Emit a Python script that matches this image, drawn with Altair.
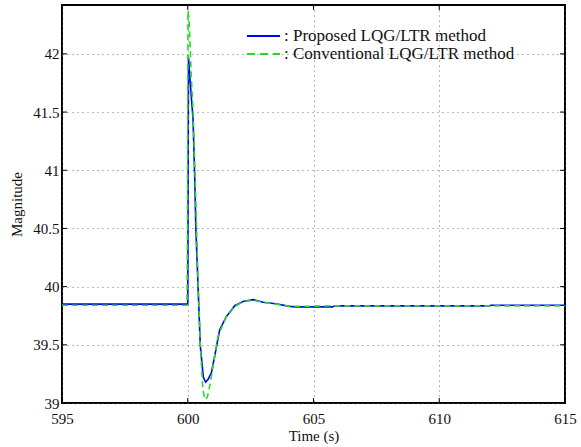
import altair as alt
import pandas as pd

# Proposed LQG/LTR method (blue, solid)
t_prop = [595, 599.99, 600.0, 600.03, 600.08, 600.15, 600.21, 600.28, 600.32, 600.41,
          600.5, 600.62, 600.71, 600.8, 600.94, 601.07, 601.27, 601.53, 601.87, 602.2,
          602.6, 603.0, 603.5, 604.05, 604.3, 605.75, 605.85, 612.0, 612.05, 615]
v_prop = [39.85, 39.85, 39.85, 41.97, 41.81, 41.61, 41.44, 40.92, 40.52, 40.0,
          39.49, 39.22, 39.18, 39.2, 39.26, 39.40, 39.63, 39.74, 39.836, 39.873,
          39.888, 39.865, 39.853, 39.83, 39.826, 39.826, 39.835, 39.835, 39.84, 39.84]

# Conventional LQG/LTR method (green, dashed)
t_conv = [595, 599.97, 599.99, 600.01, 600.05, 600.1, 600.15, 600.21, 600.3, 600.4,
          600.5, 600.6, 600.68, 600.78, 600.87, 601.0, 601.2, 601.5, 601.87, 602.2,
          602.6, 603.0, 603.5, 604.05, 604.3, 605.75, 605.85, 615]
v_conv = [39.84, 39.84, 40.5, 42.37, 42.30, 42.04, 41.76, 41.53, 40.9, 40.1,
          39.5, 39.12, 39.03, 39.05, 39.14, 39.31, 39.57, 39.73, 39.83, 39.87,
          39.885, 39.865, 39.85, 39.83, 39.83, 39.835, 39.835, 39.835]

legend_labels = [": Proposed LQG/LTR method", ": Conventional LQG/LTR method"]
x_ticks = [595, 600, 605, 610, 615]
y_ticks = [39, 39.5, 40, 40.5, 41, 41.5, 42]

df_p = pd.DataFrame({"t": t_prop, "v": v_prop})
df_c = pd.DataFrame({"t": t_conv, "v": v_conv})
df_xt = pd.DataFrame({"t": x_ticks})
df_yt = pd.DataFrame({"v": y_ticks})

FONT = "Liberation Serif"
W, H = 503, 398
TL = 5

xs = alt.Scale(domain=[595, 615], nice=False, zero=False)
ys = alt.Scale(domain=[39, 42.42], nice=False, zero=False)

xax = alt.Axis(values=x_ticks, title="Time (s)", grid=True, gridDash=[1, 4], gridColor="#666666",
               gridOpacity=0.9, labelFont=FONT, labelFontSize=15, titleFont=FONT, titleFontSize=15,
               titleFontWeight="normal", labelColor="#111111", titleColor="#111111",
               domain=False, ticks=False, labelPadding=8, titlePadding=2, labelFlush=False,
               format="~g")
yax = alt.Axis(values=y_ticks, title="Magnitude", grid=True, gridDash=[1, 4], gridColor="#666666",
               gridOpacity=0.9, labelFont=FONT, labelFontSize=15, titleFont=FONT, titleFontSize=15,
               titleFontWeight="normal", labelColor="#111111", titleColor="#111111",
               domain=False, ticks=False, labelPadding=3, titlePadding=8, labelFlush=False,
               format="~g")

blue = alt.Chart(df_p).mark_line(color="#0000ff", strokeWidth=1.6, clip=True).encode(
    x=alt.X("t:Q", scale=xs, axis=xax),
    y=alt.Y("v:Q", scale=ys, axis=yax),
)
green = alt.Chart(df_c).mark_line(color="#22dd22", strokeWidth=1.6, strokeDash=[6, 4], clip=True).encode(
    x=alt.X("t:Q", scale=xs),
    y=alt.Y("v:Q", scale=ys),
)

# inside tick marks on all four sides
xt_bot = alt.Chart(df_xt).mark_rule(color="black", strokeWidth=1).encode(
    x=alt.X("t:Q", scale=xs), y=alt.value(H), y2=alt.value(H - TL))
xt_top = alt.Chart(df_xt).mark_rule(color="black", strokeWidth=1).encode(
    x=alt.X("t:Q", scale=xs), y=alt.value(0), y2=alt.value(TL))
yt_left = alt.Chart(df_yt).mark_rule(color="black", strokeWidth=1).encode(
    y=alt.Y("v:Q", scale=ys), x=alt.value(0), x2=alt.value(TL))
yt_right = alt.Chart(df_yt).mark_rule(color="black", strokeWidth=1).encode(
    y=alt.Y("v:Q", scale=ys), x=alt.value(W), x2=alt.value(W - TL))

leg_x0, leg_x1, leg_tx = 185, 218, 222
leg1 = alt.Chart(pd.DataFrame({"l": [legend_labels[0]]})).mark_rule(color="#0000ff", strokeWidth=2).encode(
    x=alt.value(leg_x0), x2=alt.value(leg_x1), y=alt.value(31))
leg2 = alt.Chart(pd.DataFrame({"l": [legend_labels[1]]})).mark_rule(color="#22dd22", strokeWidth=2, strokeDash=[8, 5]).encode(
    x=alt.value(leg_x0), x2=alt.value(leg_x1), y=alt.value(49))
txt1 = alt.Chart(pd.DataFrame({"l": [legend_labels[0]]})).mark_text(
    font=FONT, fontSize=17, align="left", baseline="middle", color="#111111").encode(
    text="l:N", x=alt.value(leg_tx), y=alt.value(31))
txt2 = alt.Chart(pd.DataFrame({"l": [legend_labels[1]]})).mark_text(
    font=FONT, fontSize=17, align="left", baseline="middle", color="#111111").encode(
    text="l:N", x=alt.value(leg_tx), y=alt.value(49))

chart = alt.layer(blue, green, xt_bot, xt_top, yt_left, yt_right, leg1, leg2, txt1, txt2).properties(
    width=W, height=H,
    autosize=alt.AutoSizeParams(type="none"),
    padding={"left": 62, "top": 5, "right": 16, "bottom": 44},
    background="white",
).configure_view(stroke="black", strokeWidth=2)

chart.save("out.html", embed_options={"renderer": "svg", "actions": False})
